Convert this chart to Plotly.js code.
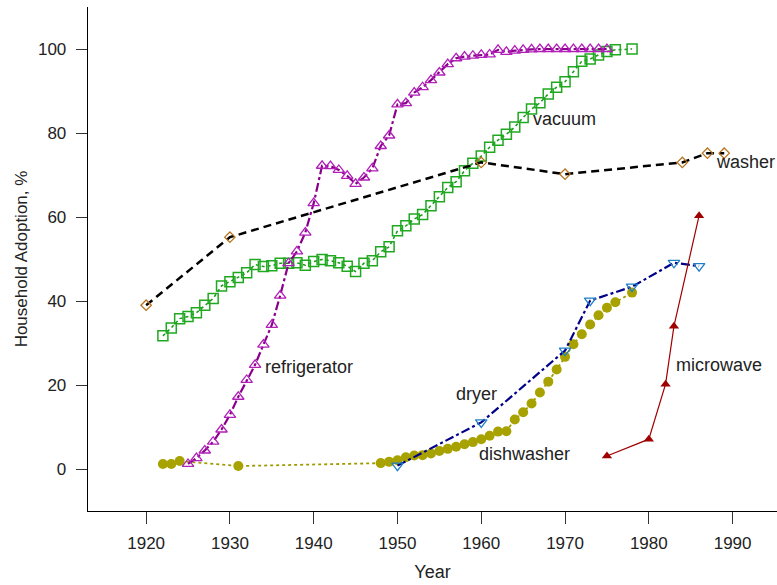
<!DOCTYPE html>
<html>
<head>
<meta charset="utf-8">
<script src="https://cdn.plot.ly/plotly-3.0.1.min.js"></script>
<style>html,body{margin:0;padding:0;background:#fff;}#chart{width:777px;height:585px;}</style>
</head>
<body>
<div id="chart"></div>
<script>
// Refrigerator
const fridgeYears = [1925,1926,1927,1928,1929,1930,1931,1932,1933,1934,1935,1936,1937,1938,1939,1940,1941,1942,1943,1944,1945,1946,1947,1948,1949,1950,1951,1952,1953,1954,1955,1956,1957,1958,1959,1960,1961,1962,1963,1964,1965,1966,1967,1968,1969,1970,1971,1972,1973,1974,1975];
const fridgeVals = [1.2,2.6,4.4,6.5,9.4,12.9,17.2,21.2,24.8,29.6,34.3,41.3,49,51.8,56.3,63.3,72.2,72.1,71.2,69.8,67.9,69.4,71.6,76.9,79.4,86.8,87.1,89.6,90.9,92.6,94.4,96.4,97.8,98.2,98.4,98.6,98.7,99.8,99.3,99.6,99.8,99.9,100,100,100,100,100,100,100,100,100];
// Vacuum
const vacYears = [1922,1923,1924,1925,1926,1927,1928,1929,1930,1931,1932,1933,1934,1935,1936,1937,1938,1939,1940,1941,1942,1943,1944,1945,1946,1947,1948,1949,1950,1951,1952,1953,1954,1955,1956,1957,1958,1959,1960,1961,1962,1963,1964,1965,1966,1967,1968,1969,1970,1971,1972,1973,1974,1975,1976,1978];
const vacVals = [31.7,33.6,35.8,36.3,37.2,39.0,40.6,43.6,44.6,45.6,46.7,48.7,48.2,48.4,49.0,49.0,49.1,48.5,49.4,49.9,49.6,49.1,48.3,47.0,49.0,49.6,51.7,52.9,56.7,57.9,59.5,60.6,62.7,64.8,67.0,68.4,71.0,72.8,74.5,76.6,78.3,79.7,81.4,83.7,85.7,87.2,89.3,90.9,92.2,94.6,97.1,97.6,98.6,99.4,99.8,100];
// Washer
const washYears = [1920,1930,1960,1970,1984,1987,1989];
const washVals = [39,55.2,73,70.2,73,75.2,75.2];
// Dishwasher
const dishYears = [1922,1923,1924,1931,1948,1949,1950,1951,1952,1953,1954,1955,1956,1957,1958,1959,1960,1961,1962,1963,1964,1965,1966,1967,1968,1969,1970,1971,1972,1973,1974,1975,1976,1978];
const dishVals = [1.2,1.2,1.9,0.7,1.4,1.7,2.1,2.8,3.2,3.3,3.7,4.3,4.8,5.3,5.9,6.4,7.1,7.9,8.9,9.0,11.8,13.5,15.6,18.2,20.8,23.7,26.7,29.7,32.1,34.4,36.6,38.4,39.7,42.0];
// Dryer
const dryerYears = [1950,1960,1970,1973,1978,1983,1986];
const dryerVals = [0.8,11.1,28.2,40.1,43.4,49.1,48.3];
// Microwave
const microYears = [1975,1980,1982,1983,1986];
const microVals = [3.1,7.1,20.2,34.0,60.3];

// Label text
const labelNames = ["refrigerator","vacuum","washer","dryer","dishwasher","microwave"];
const labelX = [1939.45,1969.9,1987.8,1959.4,1965.2,1988.4];
const labelY = [24.3,83.3,73.1,17.9,3.6,24.8];
const labelAnchor = ["center","center","left","center","center","center"];

const traces = [
  {x: dishYears, y: dishVals, mode:'lines+markers', name:'dishwasher',
   line:{color:'#9E9A00', width:1.8, dash:'dot'},
   marker:{symbol:'circle', size:10, color:'#A8A200'}},
  {x: vacYears, y: vacVals, mode:'lines+markers', name:'vacuum',
   line:{color:'#169A16', width:1.5, dash:'dot'},
   marker:{symbol:'square-open', size:10, color:'#20A820', line:{width:1.5}}},
  {x: washYears, y: washVals, mode:'lines+markers', name:'washer',
   line:{color:'#000000', width:2.5, dash:'8px,5px'},
   marker:{symbol:'diamond-open', size:8, color:'#B8731E', line:{width:1.3}}},
  {x: fridgeYears, y: fridgeVals, mode:'lines+markers', name:'refrigerator',
   line:{color:'#8B008B', width:2.2, dash:'dashdot'},
   marker:{symbol:'triangle-up-open', size:10, color:'#B020B8', line:{width:1.3}}},
  {x: dryerYears, y: dryerVals, mode:'lines+markers', name:'dryer',
   line:{color:'#00008B', width:2.2, dash:'dashdot'},
   marker:{symbol:'triangle-down-open', size:10, color:'#1E7FC8', line:{width:1.3}}},
  {x: microYears, y: microVals, mode:'lines+markers', name:'microwave',
   line:{color:'#A00000', width:1.2},
   marker:{symbol:'triangle-up', size:9, color:'#A00000'}}
];

const annotations = labelNames.map((t,i)=>({
  x: labelX[i], y: labelY[i], xref:'x', yref:'y', text:t, showarrow:false,
  xanchor: labelAnchor[i], yanchor:'middle',
  font:{family:'Liberation Sans, Arial, sans-serif', size:18, color:'#222222'}
}));

const layout = {
  width:777, height:585,
  margin:{l:88, r:0, t:7, b:74, pad:0},
  paper_bgcolor:'#ffffff', plot_bgcolor:'#ffffff',
  showlegend:false,
  font:{family:'Liberation Sans, Arial, sans-serif', size:16, color:'#222222'},
  xaxis:{
    range:[1913.06,1995.3], showgrid:false, zeroline:false,
    showline:true, linecolor:'#000000', linewidth:1.3,
    ticks:'outside', ticklen:12, tickcolor:'#333333', tickwidth:1,
    tickvals:[1920,1930,1940,1950,1960,1970,1980,1990],
    ticktext:['1920','1930','1940','1950','1960','1970','1980','1990'],
    ticklabelstandoff:4,
    tickfont:{size:17, color:'#222222'},
    title:{text:'Year', font:{size:18, color:'#222222'}, standoff:13}
  },
  yaxis:{
    range:[-10,110], showgrid:false, zeroline:false,
    showline:true, linecolor:'#000000', linewidth:1.3,
    ticks:'outside', ticklen:11, tickcolor:'#333333', tickwidth:1,
    tickvals:[0,20,40,60,80,100],
    ticktext:['0','20','40','60','80','100'],
    ticklabelstandoff:6,
    tickfont:{size:17, color:'#222222'},
    title:{text:'Household Adoption, %', font:{size:17, color:'#222222'}, standoff:6}
  },
  annotations: annotations
};

Plotly.newPlot('chart', traces, layout, {displayModeBar:false, staticPlot:true});
</script>
</body>
</html>
